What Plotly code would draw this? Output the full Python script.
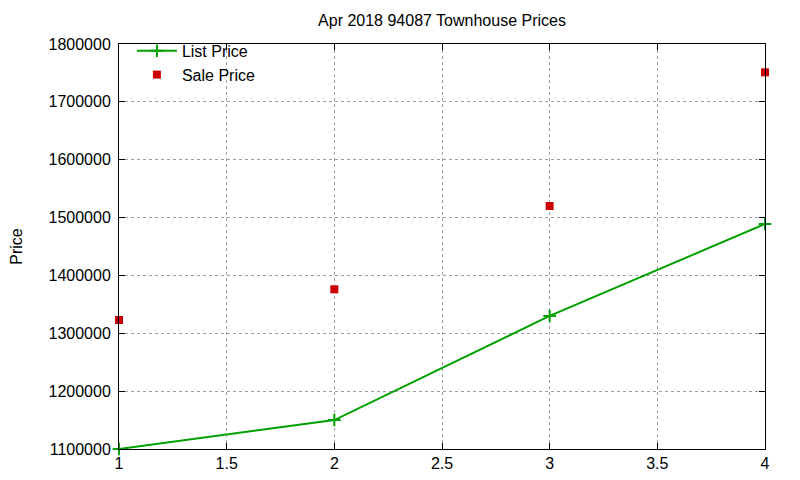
import plotly.graph_objects as go

# Apr 2018 94087 townhouse prices
months = [1, 2, 3, 4]
list_price = [1100000, 1150000, 1330000, 1489000]
sale_price = [1323000, 1376000, 1520000, 1751000]

green = '#00a000'
red = '#cc0000'
font = 'Liberation Sans, Arial, sans-serif'

list_trace = go.Scatter(x=months, y=list_price, mode='lines+markers', name='List Price',
                        line=dict(color=green, width=2),
                        marker=dict(symbol='cross-thin', size=9, line=dict(color=green, width=2)),
                        cliponaxis=False)
sale_trace = go.Scatter(x=months, y=sale_price, mode='markers', name='Sale Price',
                        marker=dict(symbol='square', size=8, color=red),
                        cliponaxis=False)

fig = go.Figure(data=[list_trace, sale_trace])

axis_style = dict(showline=True, linecolor='black', linewidth=1, mirror='ticks',
                  ticks='inside', ticklen=6, tickcolor='black',
                  showgrid=True, gridcolor='#a0a0a0', griddash='dot', gridwidth=1,
                  zeroline=False, tickfont=dict(size=16, color='black'))

fig.update_xaxes(range=[1, 4], dtick=0.5, **axis_style)
fig.update_yaxes(range=[1100000, 1800000], dtick=100000, tickformat='d',
                 ticklabelstandoff=4, automargin=False,
                 title=dict(text='Price', font=dict(size=16, color='black'), standoff=22),
                 **axis_style)

# page body has an 8px margin, so the figure sits 8px right/down in the screenshot
fig.update_layout(
    width=800, height=480,
    margin=dict(l=111, r=43, t=36, b=39),
    paper_bgcolor='white', plot_bgcolor='white',
    font=dict(family=font, size=16, color='black'),
    title=dict(text='Apr 2018 94087 Townhouse Prices', x=0.5, xref='paper',
               y=0.975, yanchor='middle', font=dict(size=16)),
    legend=dict(x=0.02, y=1.025, xanchor='left', yanchor='top', bgcolor='rgba(0,0,0,0)',
                font=dict(size=16), tracegroupgap=0, itemwidth=40),
)

fig.write_html("out.html")
